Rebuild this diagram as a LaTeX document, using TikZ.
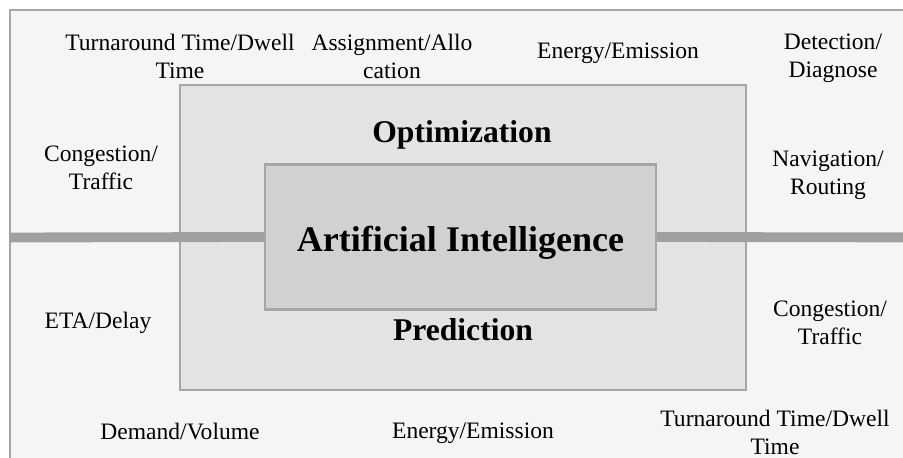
\documentclass[tikz,border=0pt]{standalone}
\usepackage{fontspec}
\setmainfont{Liberation Serif}
\definecolor{framegray}{HTML}{A6A6A6}
\definecolor{bargray}{HTML}{A0A0A0}
\definecolor{backfill}{HTML}{F4F5F5}
\definecolor{midfill}{HTML}{E3E3E3}
\definecolor{corefill}{HTML}{D0D1D1}
\tikzset{
  panel/.style={draw=framegray, line width=1.1pt, inner sep=0pt},
  lbl/.style={align=center, font=\rmfamily\fontsize{13.4}{15.9}\selectfont},
  head/.style={font=\rmfamily\fontsize{18}{21}\selectfont\bfseries},
  bar/.style={draw=bargray, line width=5.6pt}
}
\begin{document}
\begin{tikzpicture}
     \useasboundingbox (0,0) rectangle (18.06,9.16);
     \clip (0,0) rectangle (18.06,9.16);
     % background frame
     \fill[white] (0,0) rectangle (18.06,9.16);
     \draw[panel, fill=backfill] (0.2,-1) rectangle (19,8.96);
     \node[panel, fill=midfill, minimum width=11.32cm, minimum height=6.1cm] (field) at (9.26,4.41) {};
     % the bar
     \coordinate (barL) at (0.2,4.41);
     \coordinate (barR) at (19,4.41);
     \node[panel, fill=corefill, minimum width=7.8cm, minimum height=2.88cm] (ai) at (9.21,4.42) {};
     \draw[bar] (barL) -- (ai.west);
     \draw[bar] (ai.east) -- (barR);
     \draw[panel] (ai.south west) rectangle (ai.north east);
     \node[font=\rmfamily\fontsize{20.5}{24}\selectfont\bfseries] (aitext) at (9.21,4.3) {Artificial Intelligence};
     % headings
     \node[head] (opt) at (9.24,6.46) {Optimization};
     \node[head] (pred) at (9.26,2.56) {Prediction};
     % top row
     \node[lbl] (turn1) at (3.6,8.04) {Turnaround Time/Dwell\\Time};
     \node[lbl] (assign) at (7.84,8.04) {Assignment/Allo\\cation};
     \node[lbl] (energy1) at (12.36,8.1) {Energy/Emission};
     \node[lbl] (detect) at (16.66,8.0) {Detection/\\Diagnose};
     % sides
     \node[lbl] (cong1) at (2.02,5.8) {Congestion/\\Traffic};
     \node[lbl] (nav) at (16.56,5.66) {Navigation/\\Routing};
     \node[lbl] (eta) at (1.96,2.7) {ETA/Delay};
     \node[lbl] (cong2) at (16.6,2.7) {Congestion/\\Traffic};
     % bottom row
     \node[lbl] (demand) at (3.6,0.52) {Demand/Volume};
     \node[lbl] (energy2) at (9.46,0.5) {Energy/Emission};
     \node[lbl] (turn2) at (15.5,0.52) {Turnaround Time/Dwell\\Time};
\end{tikzpicture}
\end{document}
